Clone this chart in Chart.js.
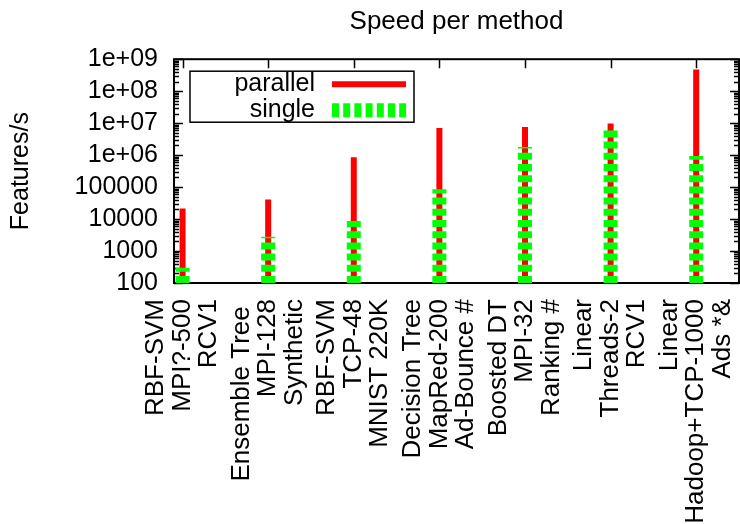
<!DOCTYPE html>
<html>
<head>
<meta charset="utf-8">
<script src="https://cdn.jsdelivr.net/npm/chart.js@4"></script>
<style>
  html, body { margin: 0; padding: 0; background: #fff; }
  #wrap { width: 740px; height: 524px; }
</style>
</head>
<body>
<div id="wrap"><canvas id="c"></canvas></div>
<script>
// Three-line tick label per method group (rotated 90 degrees).
const groupLabels = [
  ['RBF-SVM', 'MPI?-500', 'RCV1'],
  ['Ensemble Tree ', 'MPI-128', 'Synthetic'],
  ['RBF-SVM', 'TCP-48', 'MNIST 220K'],
  ['Decision Tree', 'MapRed-200', 'Ad-Bounce #'],
  ['Boosted DT', 'MPI-32', 'Ranking #'],
  ['Linear', 'Threads-2', 'RCV1'],
  ['Linear', 'Hadoop+TCP-1000', 'Ads *&'],
];
const parallelSpeed = [21500, 41000, 850000, 7100000, 7600000, 9800000, 480000000];
const singleSpeed   = [300, 2800, 8700, 85000, 1800000, 7300000, 930000];

const yMin = 100, yMax = 1e9;
const yTicks      = [1e2, 1e3, 1e4, 1e5, 1e6, 1e7, 1e8, 1e9];
const yTickLabels = ['100', '1000', '10000', '100000', '1e+06', '1e+07', '1e+08', '1e+09'];

const FONT = { family: '"Liberation Sans", Arial, Helvetica, sans-serif', size: 25 };

// gnuplot-style impulses: one vertical segment per group, broken by nulls.
function impulses(vals) {
  const pts = [];
  vals.forEach((v, i) => { pts.push({ x: i, y: yMin }, { x: i, y: v }, { x: i, y: null }); });
  return pts;
}

// Border box plus inward major/minor ticks, mirrored on all sides.
const frame = {
  id: 'frame',
  beforeDatasetsDraw(chart) {
    const { ctx, chartArea: a, scales: { x, y } } = chart;
    ctx.save();
    ctx.strokeStyle = '#000';
    ctx.lineWidth = 1.5;
    ctx.beginPath();
    for (let d = 2; d <= 9; d++) {
      for (let m = 1; m < 10; m++) {
        const v = m * Math.pow(10, d);
        if (v > yMax) break;
        const py = Math.round(y.getPixelForValue(v)) + 0.5;
        const len = m === 1 ? 9 : 5;
        ctx.moveTo(a.left, py); ctx.lineTo(a.left + len, py);
        ctx.moveTo(a.right, py); ctx.lineTo(a.right - len, py);
      }
    }
    groupLabels.forEach((_, i) => {
      const px = Math.round(x.getPixelForValue(i)) + 0.5;
      ctx.moveTo(px, a.bottom); ctx.lineTo(px, a.bottom - 9);
      ctx.moveTo(px, a.top); ctx.lineTo(px, a.top + 9);
    });
    ctx.stroke();
    ctx.lineWidth = 2;
    ctx.strokeRect(a.left, a.top, a.right - a.left, a.bottom - a.top);
    ctx.restore();
  }
};

// Key box in the top-left corner of the plot.
const key = {
  id: 'key',
  afterDraw(chart) {
    const { ctx, chartArea: a } = chart;
    const bx = a.left + 16, by = a.top + 12, bw = 224, bh = 51;
    ctx.save();
    ctx.strokeStyle = '#000';
    ctx.lineWidth = 1.5;
    ctx.strokeRect(bx, by, bw, bh);
    ctx.font = `${FONT.size}px ${FONT.family}`;
    ctx.fillStyle = '#000';
    ctx.textAlign = 'right';
    ctx.textBaseline = 'middle';
    chart.data.datasets.forEach((ds, i) => {
      const ry = by + 13 + i * 26;
      ctx.fillText(ds.label, bx + 125, ry);
      ctx.strokeStyle = ds.borderColor;
      ctx.lineWidth = ds.borderWidth;
      ctx.setLineDash(ds.borderDash || []);
      ctx.beginPath();
      ctx.moveTo(bx + 142, ry);
      ctx.lineTo(bx + 216, ry);
      ctx.stroke();
    });
    ctx.restore();
  }
};

new Chart(document.getElementById('c'), {
  type: 'line',
  data: {
    datasets: [
      {
        label: 'parallel',
        data: impulses(parallelSpeed),
        borderColor: '#ff0000',
        borderWidth: 6,
        borderCapStyle: 'butt',
        pointRadius: 0,
        spanGaps: false,
        order: 2,
      },
      {
        label: 'single',
        data: impulses(singleSpeed),
        borderColor: '#00ff00',
        borderWidth: 14,
        borderDash: [7, 4.2],
        borderCapStyle: 'butt',
        pointRadius: 0,
        spanGaps: false,
        order: 1,
      },
    ],
  },
  options: {
    responsive: true,
    maintainAspectRatio: false,
    animation: false,
    layout: { padding: { left: 6, right: 1, top: 0, bottom: 0 } },
    plugins: {
      legend: { display: false },
      tooltip: { enabled: false },
      title: {
        display: true,
        text: 'Speed per method',
        color: '#000',
        fullSize: false,
        font: { ...FONT, size: 26, weight: 'normal', lineHeight: 1.2 },
        padding: { top: 6, bottom: 22 },
      },
    },
    scales: {
      x: {
        type: 'linear',
        min: -0.1,
        max: 6.5,
        afterBuildTicks: s => { s.ticks = groupLabels.map((_, i) => ({ value: i })); },
        afterFit: s => { s.height = 241; s.paddingLeft = 0; s.paddingRight = 0; },
        grid: { display: false, drawTicks: false },
        border: { display: false },
        ticks: {
          autoSkip: false,
          minRotation: 90,
          maxRotation: 90,
          padding: 16,
          labelOffset: -26.5,
          color: '#000',
          font: { ...FONT, size: 26, lineHeight: 1.02 },
          callback: (v, i) => groupLabels[i],
        },
      },
      y: {
        type: 'logarithmic',
        min: yMin,
        max: yMax,
        afterBuildTicks: s => { s.ticks = yTicks.map(v => ({ value: v })); },
        afterFit: s => { s.width = 168; s.paddingTop = 0; s.paddingBottom = 0; },
        grid: { display: false, drawTicks: false },
        border: { display: false },
        ticks: {
          autoSkip: false,
          padding: 16,
          color: '#000',
          font: FONT,
          callback: (v, i) => yTickLabels[i],
        },
        title: {
          display: true,
          text: 'Features/s',
          color: '#000',
          font: { ...FONT, lineHeight: 1.2 },
          padding: 0,
        },
      },
    },
  },
  plugins: [frame, key],
});
</script>
</body>
</html>
